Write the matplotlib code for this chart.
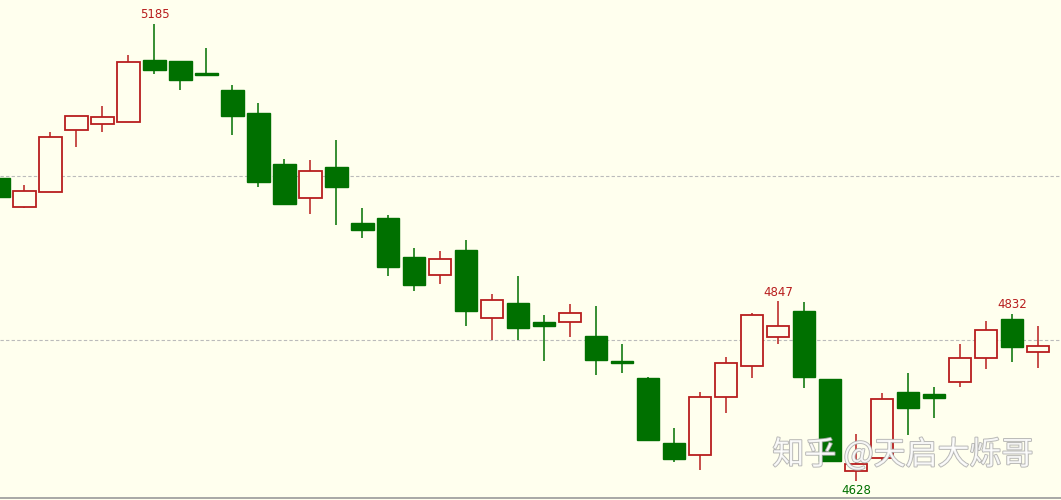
import numpy as np
import matplotlib.pyplot as plt
import matplotlib.patheffects as pe

# candle data (open, high, low, close)
opens = [4998, 4962, 4980, 5056, 5063, 5066, 5141, 5140, 5126, 5105,
         5077, 5015, 4973, 5011, 4943, 4949, 4901, 4879, 4910, 4827,
         4845, 4822, 4822, 4805, 4774, 4754, 4674, 4660, 4730, 4768,
         4804, 4835, 4752, 4640, 4656, 4737, 4734, 4749, 4778, 4826, 4785]
highs = [5000, 4989, 5054, 5073, 5085, 5148, 5185, 5140, 5156, 5111,
         5089, 5021, 5020, 5044, 4961, 4952, 4912, 4909, 4922, 4856,
         4878, 4830, 4844, 4841, 4795, 4755, 4693, 4737, 4779, 4833,
         4847, 4846, 4752, 4685, 4735, 4760, 4743, 4795, 4823, 4832, 4817]
lows = [4972, 4961, 4980, 5035, 5054, 5066, 5124, 5105, 5122, 5050,
        4987, 4966, 4954, 4940, 4924, 4878, 4860, 4868, 4817, 4800,
        4800, 4774, 4804, 4757, 4760, 4678, 4651, 4641, 4711, 4754,
        4795, 4741, 4652, 4628, 4650, 4684, 4705, 4743, 4765, 4773, 4766]
closes = [4974, 4982, 5048, 5073, 5072, 5139, 5129, 5117, 5123, 5073,
          4993, 4966, 5006, 4987, 4934, 4889, 4867, 4899, 4835, 4849,
          4815, 4817, 4833, 4776, 4772, 4678, 4655, 4730, 4772, 4830,
          4817, 4755, 4652, 4649, 4728, 4717, 4729, 4778, 4812, 4791, 4793]

# marked extremes
hi_marks = [(6, 5185), (30, 4847), (39, 4832)]
lo_marks = [(33, 4628)]
grid_levels = [5000, 4800]

bg = '#FFFFEE'
red = '#B81E1E'
green = '#007000'

fig = plt.figure(figsize=(10.61, 5.0), dpi=100, facecolor=bg)
ax = fig.add_axes([0, 0.004, 1, 0.996])
ax.set_facecolor(bg)

o = np.array(opens)
h = np.array(highs)
l = np.array(lows)
c = np.array(closes)
x = np.arange(len(o))
up = c >= o

for lv in grid_levels:
    ax.axhline(lv, color='#BBBBBB', lw=0.8, ls=(0, (3, 2)), zorder=0)

ax.vlines(x[up], l[up], h[up], color=red, lw=1.1, zorder=1)
ax.vlines(x[~up], l[~up], h[~up], color=green, lw=1.1, zorder=1)

w = 0.85
ax.bar(x[up], c[up] - o[up], bottom=o[up], width=w, facecolor=bg,
       edgecolor=red, linewidth=1.3, zorder=2)
ax.bar(x[~up], o[~up] - c[~up], bottom=c[~up], width=w, facecolor=green,
       edgecolor=green, linewidth=1.0, zorder=2)

for i, v in hi_marks:
    ax.annotate(str(v), (i, v), xytext=(0, 2), textcoords='offset points',
                ha='center', va='bottom', color=red, fontsize=8.5)
for i, v in lo_marks:
    ax.annotate(str(v), (i, v), xytext=(0, -2), textcoords='offset points',
                ha='center', va='top', color=green, fontsize=8.5)

ax.set_xlim(0.058, 40.87)
ax.set_ylim(4607.3, 5214.6)
ax.set_xticks([])
ax.set_yticks([])
for s in ['top', 'left', 'right']:
    ax.spines[s].set_visible(False)
ax.spines['bottom'].set_color('#999999')
ax.spines['bottom'].set_linewidth(1.2)

# watermark
fig.text(0.728, 0.09, '知乎 @天启大烁哥', fontsize=23, color='white',
         family=['Noto Sans CJK SC', 'DejaVu Sans'], ha='left', va='center',
         alpha=0.85, zorder=5,
         path_effects=[pe.withStroke(linewidth=1.3, foreground='#aaaaaa')])

plt.savefig('out.png', dpi=100, facecolor=bg)
